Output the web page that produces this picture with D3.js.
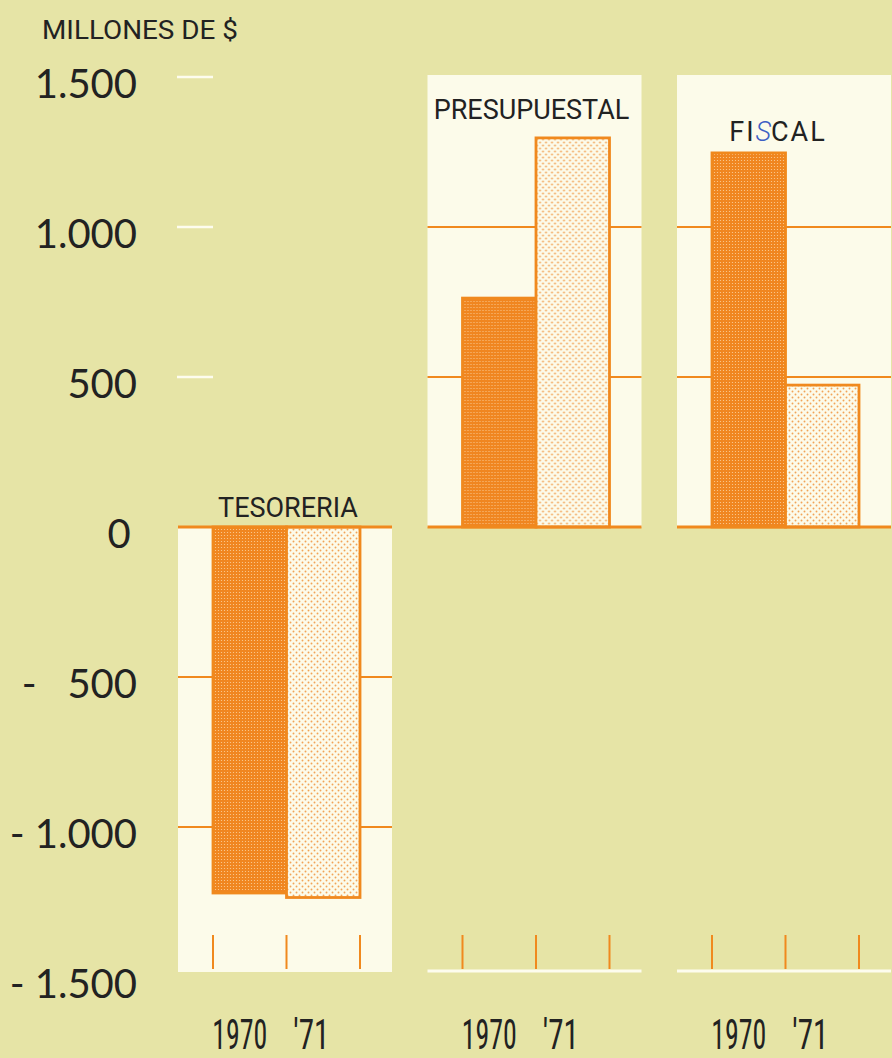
<!DOCTYPE html>
<html>
<head>
<meta charset="utf-8">
<script src="https://cdn.jsdelivr.net/npm/d3@7"></script>
<style>
  html, body { margin: 0; padding: 0; background: #e6e4a6; }
  svg { display: block; }
</style>
</head>
<body>
<svg id="chart" width="892" height="1058"></svg>
<script>
// Balance by account, millions of dollars
const categories = ["TESORERIA", "PRESUPUESTAL", "FISCAL"];
const years = ["1970", "'71"];
const values1970 = [-1220, 763, 1247];
const values1971 = [-1235, 1297, 473];
const yTicks = [1500, 1000, 500, 0, -500, -1000, -1500];
const yTickLabels = ["1.500", "1.000", "500", "0", "-   500", "- 1.000", "- 1.500"];
const unitLabel = "MILLONES DE $";

const BG = "#e6e4a6", PANEL = "#fcfbea", ORANGE = "#f0891e", INK = "#222";

const svg = d3.select("#chart");
const W = 892, H = 1058;
svg.append("rect").attr("width", W).attr("height", H).attr("fill", BG);

// patterns: dense halftone for 1970, sparse dots for '71
const defs = svg.append("defs");
const pDark = defs.append("pattern").attr("id", "dark").attr("patternUnits", "userSpaceOnUse")
  .attr("width", 3).attr("height", 3);
pDark.append("rect").attr("width", 3).attr("height", 3).attr("fill", "#f08620");
pDark.append("circle").attr("cx", 1.5).attr("cy", 1.5).attr("r", 0.6).attr("fill", "#fbcf98");
const pLight = defs.append("pattern").attr("id", "light").attr("patternUnits", "userSpaceOnUse")
  .attr("width", 6).attr("height", 6);
pLight.append("rect").attr("width", 6).attr("height", 6).attr("fill", PANEL);
pLight.append("circle").attr("cx", 1.5).attr("cy", 1.5).attr("r", 0.95).attr("fill", "#f2a457");
pLight.append("circle").attr("cx", 4.5).attr("cy", 4.5).attr("r", 0.95).attr("fill", "#f2a457");

const y = d3.scaleLinear().domain([-1500, 1500]).range([977, 77]);
const x0 = d3.scaleBand().domain(categories).range([178, 891]).paddingInner(0.1423).paddingOuter(0);
const x1 = d3.scaleBand().domain(years).range([35, 182]).padding(0);
const panelW = x0.bandwidth();
const baseY = y(-1500) - 6;

// unit label
svg.append("text").attr("x", 42).attr("y", 39).text(unitLabel)
  .attr("font-family", "Roboto, 'Liberation Sans', sans-serif").attr("font-size", 25)
  .attr("textLength", 196).attr("lengthAdjust", "spacingAndGlyphs").attr("fill", INK);

// y axis labels
svg.append("g").selectAll("text").data(yTicks).join("text")
  .attr("x", d => d === 0 ? 119 : 137)
  .attr("text-anchor", d => d === 0 ? "middle" : "end")
  .attr("y", d => y(d) + 6)
  .attr("dominant-baseline", "central")
  .attr("font-family", "Lato, 'Open Sans', sans-serif").attr("font-size", 40)
  .attr("fill", INK)
  .attr("xml:space", "preserve")
  .style("white-space", "pre")
  .text((d, i) => yTickLabels[i]);

// short white ticks above zero, left column
svg.append("g").selectAll("line").data(yTicks.filter(d => d > 0)).join("line")
  .attr("x1", 177).attr("x2", 213).attr("y1", d => y(d)).attr("y2", d => y(d))
  .attr("stroke", "#fdfcee").attr("stroke-width", 2.5);

const data = categories.map((c, i) => ({ cat: c, vals: [values1970[i], values1971[i]] }));

data.forEach((d, i) => {
  const g = svg.append("g").attr("transform", `translate(${x0(d.cat)},0)`);
  const negative = d.vals[0] < 0;
  // white panel: below zero for negative accounts, above for positive
  const top = negative ? y(0) : y(1500) - 2;
  const bottom = negative ? baseY + 1 : y(0);
  g.append("rect").attr("x", 0).attr("y", top).attr("width", panelW).attr("height", bottom - top)
    .attr("fill", PANEL);

  // gridlines inside panel
  const grid = negative ? [-500, -1000] : [1000, 500];
  g.selectAll("line.grid").data(grid).join("line").attr("class", "grid")
    .attr("x1", 0).attr("x2", panelW).attr("y1", v => y(v)).attr("y2", v => y(v))
    .attr("stroke", ORANGE).attr("stroke-width", 2);

  // bars
  g.selectAll("rect.bar").data(d.vals).join("rect").attr("class", "bar")
    .attr("x", (v, j) => x1(years[j]))
    .attr("width", x1.bandwidth())
    .attr("y", v => y(Math.max(0, v)))
    .attr("height", v => Math.abs(y(v) - y(0)))
    .attr("fill", (v, j) => j === 0 ? "url(#dark)" : "url(#light)")
    .attr("stroke", ORANGE).attr("stroke-width", 2.8);

  // zero line
  g.append("line").attr("x1", 0).attr("x2", panelW).attr("y1", y(0)).attr("y2", y(0))
    .attr("stroke", ORANGE).attr("stroke-width", 3);

  // bottom baseline for positive panels
  if (!negative) {
    g.append("line").attr("x1", 0).attr("x2", panelW).attr("y1", baseY).attr("y2", baseY)
      .attr("stroke", "#fdfcee").attr("stroke-width", 3);
  }

  // orange year ticks at bar edges
  const edges = [x1(years[0]), x1(years[1]), x1(years[1]) + x1.bandwidth()];
  g.selectAll("line.tick").data(edges).join("line").attr("class", "tick")
    .attr("x1", e => e).attr("x2", e => e)
    .attr("y1", baseY - 36).attr("y2", baseY - 2)
    .attr("stroke", ORANGE).attr("stroke-width", 2);

  // year labels
  g.selectAll("text.year").data(years).join("text").attr("class", "year")
    .attr("x", yr => x1(yr) + x1.bandwidth() / 2 - (yr === "1970" ? 10 : 12))
    .attr("y", 1049)
    .attr("text-anchor", "middle")
    .attr("font-family", "'Liberation Sans Narrow', 'Roboto Condensed', 'Liberation Sans', sans-serif")
    .attr("font-size", 42)
    .attr("fill", INK)
    .attr("textLength", yr => yr === "1970" ? 55 : 36)
    .attr("lengthAdjust", "spacingAndGlyphs")
    .text(yr => yr);

  // panel title
  const titleY = negative ? y(0) - 10 : (i === 1 ? 119 : 141);
  const t = g.append("text").attr("x", panelW / 2 + (i === 1 ? -3 : (i === 2 ? -6 : 3)))
    .attr("y", titleY).attr("text-anchor", "middle")
    .attr("font-family", "Roboto, 'Liberation Sans', sans-serif").attr("font-size", 27)
    .attr("fill", INK);
  if (d.cat === "FISCAL") {
    t.append("tspan").text("FI").attr("letter-spacing", 2);
    t.append("tspan").text("S").attr("fill", "#3d5fc4").attr("font-style", "italic")
      .attr("font-weight", 300);
    t.append("tspan").text("CAL").attr("letter-spacing", 2);
  } else {
    t.text(d.cat);
  }
});
</script>
</body>
</html>
